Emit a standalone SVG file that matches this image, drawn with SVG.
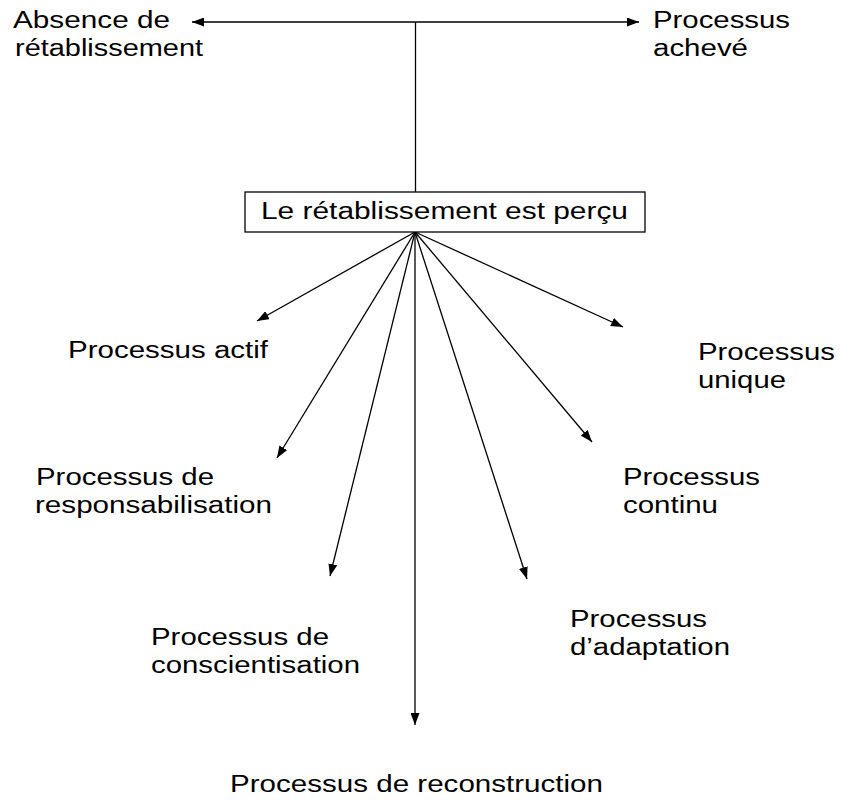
<svg xmlns="http://www.w3.org/2000/svg" width="841" height="800" viewBox="0 0 841 800">
  <style>
    .lbl { font-family: "Liberation Sans", Arial, sans-serif; font-size: 23px; fill: #000; }
    .edge { stroke: #000; stroke-width: 1.3; fill: none; marker-end: url(#arrow); }
    .box { fill: #fff; stroke: #000; stroke-width: 1.3; }
  </style>
  <defs>
    <marker id="arrow" viewBox="0 0 12 9" refX="12" refY="4.5" markerWidth="12" markerHeight="9" markerUnits="userSpaceOnUse" orient="auto-start-reverse">
      <path d="M0,0 L12,4.5 L0,9 z" fill="#000"/>
    </marker>
  </defs>
  <rect width="841" height="800" fill="#fff"/>

  <g id="connectors">
    <!-- continuum axis with both ends arrowed -->
    <line x1="192" y1="22" x2="639" y2="22" stroke="#000" stroke-width="1.3" marker-start="url(#arrow)" marker-end="url(#arrow)"/>
    <line x1="415.5" y1="22" x2="415.5" y2="192" stroke="#000" stroke-width="1.3"/>
    <!-- fan of arrows from the box -->
    <line class="edge" x1="415" y1="232" x2="257" y2="321"/>
    <line class="edge" x1="415" y1="232" x2="623" y2="327"/>
    <line class="edge" x1="415" y1="232" x2="277" y2="458"/>
    <line class="edge" x1="415" y1="232" x2="592" y2="442"/>
    <line class="edge" x1="415" y1="232" x2="330" y2="576"/>
    <line class="edge" x1="415" y1="232" x2="527" y2="579"/>
    <line class="edge" x1="415" y1="232" x2="415" y2="725"/>
  </g>

  <g id="absence">
    <text class="lbl" x="13" y="28" textLength="157" lengthAdjust="spacingAndGlyphs">Absence de</text>
    <text class="lbl" x="15" y="56" textLength="188" lengthAdjust="spacingAndGlyphs">rétablissement</text>
  </g>
  <g id="acheve">
    <text class="lbl" x="653" y="28" textLength="137" lengthAdjust="spacingAndGlyphs">Processus</text>
    <text class="lbl" x="653" y="56" textLength="95" lengthAdjust="spacingAndGlyphs">achevé</text>
  </g>
  <g id="percu">
    <rect class="box" x="245" y="192" width="400" height="40"/>
    <text class="lbl" x="261" y="219" textLength="367" lengthAdjust="spacingAndGlyphs">Le rétablissement est perçu</text>
  </g>
  <g id="actif">
    <text class="lbl" x="68" y="358" textLength="200" lengthAdjust="spacingAndGlyphs">Processus actif</text>
  </g>
  <g id="unique">
    <text class="lbl" x="698" y="360" textLength="137" lengthAdjust="spacingAndGlyphs">Processus</text>
    <text class="lbl" x="698" y="388" textLength="88" lengthAdjust="spacingAndGlyphs">unique</text>
  </g>
  <g id="responsabilisation">
    <text class="lbl" x="36" y="485" textLength="178" lengthAdjust="spacingAndGlyphs">Processus de</text>
    <text class="lbl" x="35" y="513" textLength="237" lengthAdjust="spacingAndGlyphs">responsabilisation</text>
  </g>
  <g id="continu">
    <text class="lbl" x="623" y="485" textLength="137" lengthAdjust="spacingAndGlyphs">Processus</text>
    <text class="lbl" x="623" y="513" textLength="95" lengthAdjust="spacingAndGlyphs">continu</text>
  </g>
  <g id="conscientisation">
    <text class="lbl" x="151" y="645" textLength="178" lengthAdjust="spacingAndGlyphs">Processus de</text>
    <text class="lbl" x="151" y="673" textLength="209" lengthAdjust="spacingAndGlyphs">conscientisation</text>
  </g>
  <g id="adaptation">
    <text class="lbl" x="570" y="627" textLength="137" lengthAdjust="spacingAndGlyphs">Processus</text>
    <text class="lbl" x="570" y="655" textLength="160" lengthAdjust="spacingAndGlyphs">d’adaptation</text>
  </g>
  <g id="reconstruction">
    <text class="lbl" x="230" y="792" textLength="373" lengthAdjust="spacingAndGlyphs">Processus de reconstruction</text>
  </g>
</svg>
